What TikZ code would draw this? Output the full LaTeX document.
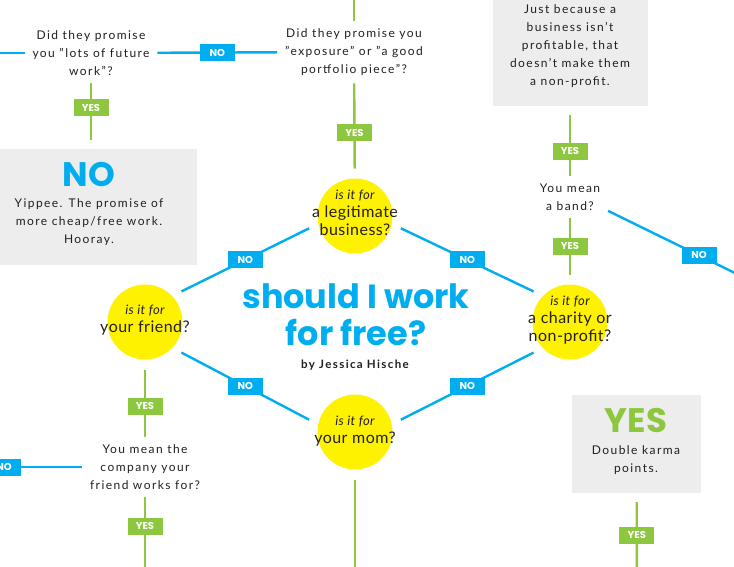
\documentclass[tikz,border=0pt]{standalone}
\usepackage{fontspec}
\setmainfont{Lato}[LetterSpace=12]
\newfontfamily\ballfont{Lato}[LetterSpace=3]
\newfontfamily\headfont{Poppins}
\usetikzlibrary{positioning}
\definecolor{sky}{HTML}{00AEEF}
\definecolor{leaf}{HTML}{8DC63F}
\definecolor{sun}{HTML}{FFF200}
\definecolor{paper}{HTML}{EDEDED}
\definecolor{ink}{HTML}{231F20}

\begin{document}
\begin{tikzpicture}[x=1pt,y=-1pt,
  q/.style={text=ink,align=center,font=\fontsize{12}{18}\selectfont,inner sep=2pt,outer sep=6pt},
  ball/.style={circle,fill=sun,minimum size=75pt,inner sep=0pt,outer sep=10pt},
  balltext/.style={text=ink,align=center,font=\ballfont\fontsize{16}{18}\selectfont},
  nobox/.style={fill=sky,text=white,font=\headfont\bfseries\fontsize{10}{10}\selectfont,minimum width=35pt,minimum height=17pt,inner sep=0pt},
  yesbox/.style={nobox,fill=leaf},
  card/.style={fill=paper,inner sep=0pt,outer sep=9pt},
  bigword/.style={font=\headfont\bfseries\fontsize{34}{34}\selectfont},
  noline/.style={sky,line width=2.4pt},
  yesline/.style={leaf,line width=2.4pt}]
  \useasboundingbox[fill=white] (0,0) rectangle (734,566);

  % grey answer cards
  \node[card,minimum width=197pt,minimum height=116pt] (nocard) at (98.5,207){};
  \node[bigword,text=sky] (nobig) at (89,175){NO};
  \node[q] (notxt) at (89,222){Yippee. The promise of\\more cheap/free work.\\Hooray.};
  \node[card,minimum width=155pt,minimum height=121pt] (justcard) at (570.5,45.5){};
  \node[q] (justtxt) at (570,46){Just because a\\business isn't\\profitable, that\\doesn't make them\\a non-profit.};
  \node[card,minimum width=129pt,minimum height=98pt] (yescard) at (636.5,444){};
  \node[bigword,text=leaf] (yesbig) at (636,421){YES};
  \node[q] (yestxt) at (636,460){Double karma\\points.};

  % questions
  \node[q] (expo) at (354,52){Did they promise you\\"exposure" or "a good\\portfolio piece"?};
  \node[q] (lots) at (91,53){Did they promise\\you "lots of future\\work"?};
  \node[q] (band) at (570,197){You mean\\a band?};
  \node[q] (friendco) at (145,467){You mean the\\company your\\friend works for?};

  % yellow circles
  \node[ball] (legit) at (355,216){};
  \node[balltext] at (355,213){{\fontsize{13}{14}\selectfont\itshape is it for}\\a legitimate\\business?};
  \node[ball] (friend) at (145,322){};
  \node[balltext] at (145,320){{\fontsize{13}{14}\selectfont\itshape is it for}\\your friend?};
  \node[ball] (charity) at (570,322){};
  \node[balltext] at (570,320){{\fontsize{13}{14}\selectfont\itshape is it for}\\a charity or\\non-profit?};
  \node[ball] (mom) at (355,432){};
  \node[balltext] at (355,431){{\fontsize{13}{14}\selectfont\itshape is it for}\\your mom?};

  % title
  \node[text=sky,align=center,font=\headfont\bfseries\fontsize{33.5}{37}\selectfont] (title) at (356,315){should I work\\for free?};
  \node[text=ink,font=\bfseries\fontsize{11.5}{13}\selectfont] (by) at (355,365){by Jessica Hische};

  % loose ends
  \coordinate (topin) at (354,-10);
  \coordinate (lotsout) at (-20,53);
  \coordinate (coout) at (-40,467);
  \coordinate (codown) at (145,590);
  \coordinate (momdown) at (355,590);
  \coordinate (bandout) at (790,300);
  \coordinate (yesdown) at (637,590);

  % connectors
  \draw[yesline] (topin)--(expo);
  \draw[yesline] (legit)-- node[yesbox,pos=.42]{YES} (expo);
  \draw[noline] (expo)-- node[nobox]{NO} (lots);
  \draw[noline] (lots)--(lotsout);
  \draw[yesline] (lots)-- node[yesbox,pos=.43]{YES} (lots |- nocard.north);
  \draw[noline] (friend.40)-- node[nobox]{NO} (legit.195);
  \draw[noline] (legit.345)-- node[nobox]{NO} (charity.140);
  \draw[noline] (friend.320)-- node[nobox]{NO} (mom.165);
  \draw[noline] (mom.15)-- node[nobox]{NO} (charity.220);
  \draw[yesline] (friend)-- node[yesbox,pos=.55]{YES} (friendco);
  \draw[noline] (friendco)-- node[nobox,pos=.64]{NO} (coout);
  \draw[yesline] (friendco)-- node[yesbox,pos=.31]{YES} (codown);
  \draw[yesline] (mom)--(momdown);
  \draw[yesline] (band |- justcard.south)-- node[yesbox,pos=.6]{YES} (band);
  \draw[yesline] (band)-- node[yesbox]{YES} (charity);
  \draw[noline] (band.-20)-- node[nobox,pos=.5]{NO} (bandout);
  \draw[yesline] (yescard)-- node[yesbox,pos=.375]{YES} (yesdown);
\end{tikzpicture}
\end{document}
